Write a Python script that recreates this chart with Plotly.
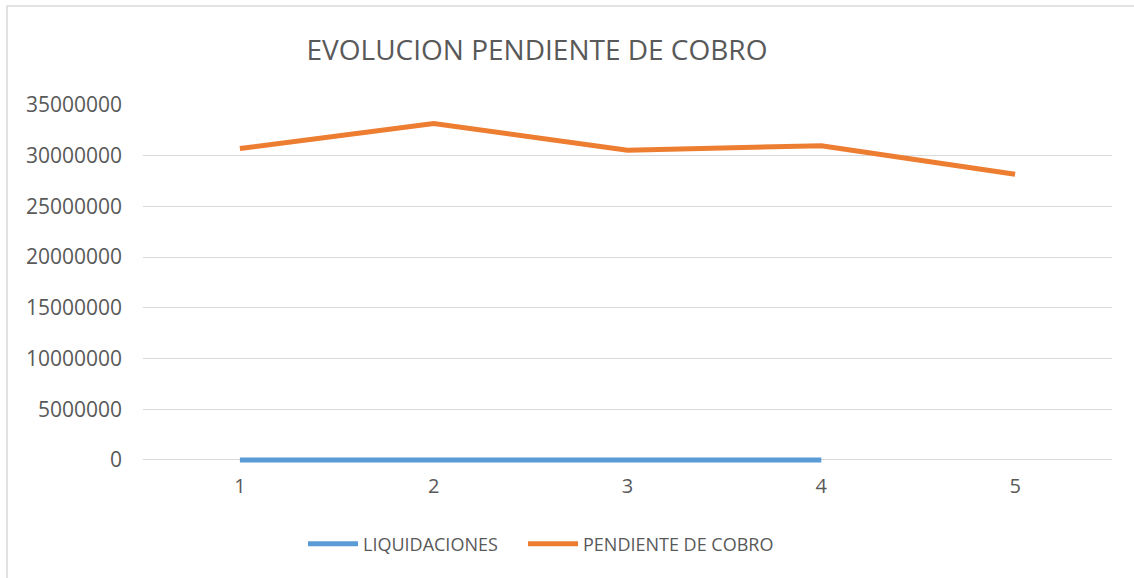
import plotly.graph_objects as go

categories = ["1", "2", "3", "4", "5"]
liquidaciones = [0, 0, 0, 0, None]
pendiente = [30710000, 33180000, 30550000, 30980000, 28180000]
y_ticks = [0, 5000000, 10000000, 15000000, 20000000, 25000000, 30000000, 35000000]

FONT = "Open Sans"
TXT = "#595959"
GRID = "#D9D9D9"

# plot area: x 143..1112, y 105..463 (value 0 at 460)
PL, PR, PT, PB = 143, 1112, 105, 463
PW, PH = PR - PL, PB - PT

fig = go.Figure()
fig.add_trace(go.Scatter(x=categories, y=liquidaciones, name="LIQUIDACIONES", mode="lines",
                         line=dict(color="#5B9BD5", width=5), connectgaps=False, legend="legend"))
fig.add_trace(go.Scatter(x=categories, y=pendiente, name="PENDIENTE DE COBRO", mode="lines",
                         line=dict(color="#ED7D31", width=5), legend="legend2"))

leg_common = dict(orientation="h", xanchor="left", y=(PB - 544)/PH, yanchor="middle",
                  itemwidth=50, font=dict(family=FONT, size=18, color=TXT),
                  bgcolor="rgba(0,0,0,0)")

fig.update_layout(
    width=1134, height=578,
    margin=dict(l=PL, r=1134 - PR, t=PT, b=578 - PB),
    paper_bgcolor="white", plot_bgcolor="white",
    font=dict(family=FONT, color=TXT, size=18),
    title=dict(text="EVOLUCION PENDIENTE DE COBRO", x=(537 - PL)/PW, xref="paper", xanchor="center",
               y=1 - 50/578, yref="container", yanchor="middle",
               font=dict(family=FONT, size=28, color=TXT)),
    showlegend=True,
    legend=dict(x=(303 - PL)/PW, **leg_common),
    legend2=dict(x=(523 - PL)/PW, **leg_common),
    xaxis=dict(type="category", range=[-0.5, 4.5], showgrid=False, zeroline=False,
               showline=False, ticks="", tickfont=dict(family=FONT, size=20, color=TXT),
               ticklabelstandoff=9),
    yaxis=dict(range=[-300000, 35000000], tickvals=y_ticks, ticktext=[str(v) for v in y_ticks],
               showgrid=True, gridcolor=GRID, gridwidth=1, zeroline=False, showline=False,
               tickfont=dict(family=FONT, size=21, color=TXT), ticklabelstandoff=20),
    shapes=[dict(type="rect", xref="paper", yref="paper",
                 x0=(7 - PL)/PW, x1=(1150 - PL)/PW, y0=(PB - 600)/PH, y1=(PB - 6)/PH,
                 line=dict(color=GRID, width=1.5), fillcolor="rgba(0,0,0,0)", layer="below")],
)

fig.write_html("out.html", config={"displayModeBar": False},
               post_script="document.body.style.margin='0';document.body.style.padding='0';")
